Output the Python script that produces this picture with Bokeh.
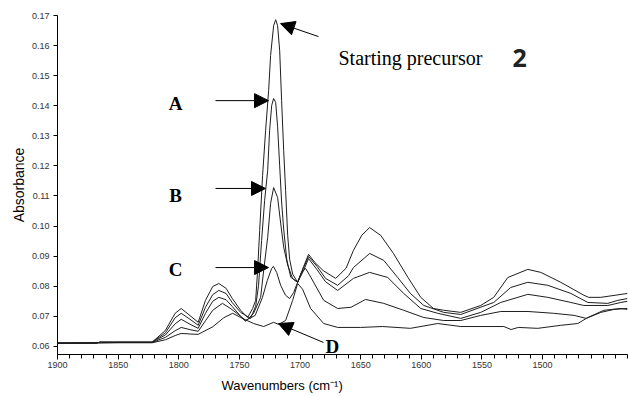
from bokeh.plotting import figure
from bokeh.models import Arrow, NormalHead, Label, FixedTicker, Range1d, NumeralTickFormatter, Title
from bokeh.embed import file_html
from bokeh.resources import INLINE

# ---- data (wavenumber cm-1, absorbance) ----
s_wn = [1900, 1868, 1865, 1822, 1811, 1803, 1798, 1790, 1784, 1778, 1772, 1767, 1761, 1756, 1749,
        1743.2, 1739.1, 1736.6, 1735, 1733.3, 1730.9, 1728.4, 1725.9, 1724.3, 1721.8, 1720.1, 1718.5,
        1716.8, 1715.2, 1713.5, 1711.9, 1710.2, 1708.6, 1706.1, 1702, 1697, 1693, 1688, 1681, 1670.6,
        1662, 1656, 1649, 1642.6, 1633.5, 1623, 1611, 1600.5, 1590, 1581.5, 1567.5, 1551, 1540.3,
        1528.7, 1512.2, 1501.5, 1485, 1466, 1462, 1452, 1430]
s_ab = [0.0611, 0.0611, 0.0614, 0.0614, 0.0653, 0.0710, 0.0726, 0.0700, 0.0680, 0.0753, 0.0799, 0.0809,
        0.0793, 0.0760, 0.0720, 0.0696, 0.0726, 0.0753, 0.0852, 0.0985, 0.1168, 0.1318, 0.1451, 0.1567,
        0.1666, 0.1686, 0.1666, 0.1583, 0.1417, 0.1251, 0.1118, 0.0969, 0.0890, 0.0840, 0.0813, 0.0866,
        0.0906, 0.0880, 0.0852, 0.0826, 0.0860, 0.0919, 0.0970, 0.0995, 0.0969, 0.0909, 0.0829, 0.0763,
        0.0726, 0.0720, 0.0713, 0.0736, 0.0763, 0.0829, 0.0856, 0.0846, 0.0813, 0.0770, 0.0763, 0.0763,
        0.0776]

a_wn = [1900, 1868, 1865, 1822, 1811, 1803, 1798, 1790, 1784, 1778, 1772, 1767, 1761, 1756, 1749,
        1740.8, 1736.6, 1734.2, 1731.7, 1729.2, 1726.7, 1725.1, 1723.4, 1721.8, 1720.1, 1718.5, 1716.8,
        1715.2, 1713.5, 1711, 1707.7, 1702, 1697, 1693, 1686, 1679, 1669, 1660, 1656, 1642.6, 1631,
        1619.5, 1609, 1598, 1581.5, 1567.5, 1540.3, 1526.2, 1512.2, 1495.7, 1476.7, 1462.7, 1446.2,
        1438, 1430]
a_ab = [0.0611, 0.0611, 0.0614, 0.0614, 0.0645, 0.0695, 0.0710, 0.0688, 0.0670, 0.0730, 0.0772, 0.0786,
        0.0776, 0.0746, 0.0713, 0.0693, 0.0733, 0.0803, 0.0952, 0.1085, 0.1185, 0.1318, 0.1401, 0.1424,
        0.1411, 0.1330, 0.1200, 0.1080, 0.0990, 0.0890, 0.0830, 0.0813, 0.0862, 0.0899, 0.0866, 0.0826,
        0.0803, 0.0835, 0.0862, 0.0909, 0.0886, 0.0829, 0.0776, 0.0736, 0.0713, 0.0706, 0.0746, 0.0796,
        0.0813, 0.0803, 0.0776, 0.0746, 0.0743, 0.0753, 0.0759]

b_wn = [1900, 1868, 1865, 1822, 1811, 1803, 1798, 1790, 1784, 1778, 1772, 1767, 1761, 1756, 1749,
        1744.9, 1738.3, 1732.5, 1730, 1726.7, 1724.3, 1721.8, 1718.5, 1716, 1713.5, 1710.2, 1706.1,
        1702, 1697, 1693, 1686, 1679, 1669, 1656, 1642.6, 1627.7, 1614.5, 1600.5, 1586.5, 1567.5,
        1551, 1534.5, 1512.2, 1495.7, 1476.7, 1466, 1446.2, 1435.5, 1430]
b_ab = [0.0611, 0.0611, 0.0614, 0.0614, 0.0638, 0.0675, 0.0690, 0.0672, 0.0660, 0.0710, 0.0750, 0.0763,
        0.0755, 0.0733, 0.0700, 0.0683, 0.0710, 0.0763, 0.0852, 0.0962, 0.1075, 0.1128, 0.1095, 0.1010,
        0.0930, 0.0870, 0.0825, 0.0813, 0.0853, 0.0892, 0.0855, 0.0815, 0.0786, 0.0826, 0.0846, 0.0829,
        0.0776, 0.0726, 0.0710, 0.0693, 0.0713, 0.0746, 0.0773, 0.0763, 0.0746, 0.0736, 0.0736, 0.0746,
        0.0750]

c_wn = [1900, 1848, 1822, 1811, 1803, 1798, 1790, 1784, 1778, 1772, 1764, 1757, 1749, 1745, 1737,
        1731, 1727, 1723.4, 1722, 1719.3, 1716, 1712, 1708.6, 1705.3, 1702, 1698.7, 1695.4, 1691,
        1680.5, 1669, 1658, 1646, 1631, 1614.5, 1598, 1581.5, 1567.5, 1551, 1534.5, 1512, 1491, 1474,
        1464, 1452, 1441, 1430]
c_ab = [0.0611, 0.0613, 0.0613, 0.0630, 0.0652, 0.0663, 0.0655, 0.0650, 0.0685, 0.0720, 0.0743, 0.0725,
        0.0700, 0.0686, 0.0703, 0.0763, 0.0819, 0.0859, 0.0866, 0.0846, 0.0803, 0.0770, 0.0759, 0.0779,
        0.0813, 0.0846, 0.0859, 0.0829, 0.0753, 0.0726, 0.0730, 0.0756, 0.0743, 0.0720, 0.0696, 0.0686,
        0.0686, 0.0703, 0.0716, 0.0716, 0.0710, 0.0703, 0.0693, 0.0713, 0.0723, 0.0726]

d_wn = [1900, 1848, 1822, 1811, 1803, 1798, 1790, 1784, 1772, 1763, 1755.6, 1749, 1738.3, 1730,
        1721.8, 1717.7, 1711.9, 1706.1, 1702, 1697.9, 1691.3, 1680.5, 1669, 1650, 1632, 1609, 1586.5,
        1567.5, 1532, 1526, 1520, 1504, 1485, 1471, 1462.7, 1449.5, 1435.5, 1430]
d_ab = [0.0610, 0.0612, 0.0612, 0.0622, 0.0636, 0.0643, 0.0641, 0.0640, 0.0665, 0.0695, 0.0710, 0.0696,
        0.0676, 0.0666, 0.0680, 0.0673, 0.0686, 0.0753, 0.0809, 0.0790, 0.0726, 0.0676, 0.0663, 0.0663,
        0.0666, 0.0660, 0.0676, 0.0666, 0.0666, 0.0656, 0.0663, 0.0660, 0.0670, 0.0676, 0.0696, 0.0720,
        0.0726, 0.0723]

x_ticks = [1900, 1850, 1800, 1750, 1700, 1650, 1600, 1550, 1500]
x_minor = list(range(1900, 1429, -10))
y_ticks = [0.06, 0.07, 0.08, 0.09, 0.10, 0.11, 0.12, 0.13, 0.14, 0.15, 0.16, 0.17]

p = figure(width=628, height=397, output_backend="svg", toolbar_location=None,
           x_range=Range1d(1900, 1430), y_range=Range1d(0.0573, 0.17),
           min_border_left=57, min_border_right=1, min_border_top=15, min_border_bottom=43)
p.outline_line_color = None
p.grid.visible = False
p.background_fill_color = "white"

p.xaxis.ticker = FixedTicker(ticks=x_ticks, minor_ticks=x_minor)
p.yaxis.ticker = FixedTicker(ticks=y_ticks)
p.yaxis.formatter = NumeralTickFormatter(format="0.00")
for ax in (p.xaxis, p.yaxis):
    ax.axis_line_color = "black"
    ax.axis_line_width = 1
    ax.major_tick_line_color = "black"
    ax.minor_tick_line_color = "black"
    ax.major_tick_in = 0
    ax.minor_tick_in = 0
    ax.major_label_text_font = "Liberation Sans"
    ax.major_label_text_font_size = "9px"
    ax.major_label_text_color = "#333333"
p.xaxis.major_tick_out = 5
p.xaxis.minor_tick_out = 4
p.xaxis.major_label_standoff = 2
p.yaxis.major_tick_out = 4
p.yaxis.minor_tick_out = 0
p.yaxis.major_label_standoff = 4

for wn, ab in ((s_wn, s_ab), (a_wn, a_ab), (b_wn, b_ab), (c_wn, c_ab), (d_wn, d_ab)):
    p.line(wn, ab, line_color="#1e1e1e", line_width=1)

def arrow(x0, y0, x1, y1, size):
    p.add_layout(Arrow(end=NormalHead(size=size, fill_color="black", line_color="black"),
                       x_start=x0, y_start=y0, x_end=x1, y_end=y1,
                       line_color="black", line_width=1))

arrow(1684.8, 0.1630, 1716.1, 0.1673, 14)
arrow(1769.7, 0.1417, 1726.0, 0.1417, 14)
arrow(1769.7, 0.1125, 1728.5, 0.1125, 14)
arrow(1769.7, 0.0862, 1726.0, 0.0862, 14)
arrow(1680.7, 0.0613, 1717.8, 0.0676, 14)

def letter(x, y, t):
    p.add_layout(Label(x=x, y=y, text=t, text_font="Liberation Serif", text_font_style="bold",
                       text_font_size="19px", text_align="center", text_baseline="middle",
                       text_color="black"))

letter(1802.7, 0.1406, "A")
letter(1802.7, 0.1102, "B")
letter(1802.7, 0.0856, "C")
letter(1673.3, 0.0600, "D")

p.add_layout(Label(x=1668.3, y=0.1560, text="Starting precursor", text_font="Liberation Serif",
                   text_font_size="20px", text_baseline="alphabetic", text_color="black"))
p.add_layout(Label(x=1524.8, y=0.1560, text="2", text_font="Open Sans", text_font_style="bold",
                   text_font_size="25px", text_baseline="alphabetic", text_color="#222222"))

# axis titles placed as side titles (not clipped to the frame)
p.add_layout(Title(text="Wavenumbers (cm⁻¹)", align="left", offset=164, standoff=10,
                   text_font="Liberation Sans", text_font_style="normal",
                   text_font_size="13px", text_color="black"), "below")
p.add_layout(Title(text="Absorbance", align="center", standoff=4,
                   text_font="Liberation Sans", text_font_style="normal",
                   text_font_size="14px", text_color="black"), "left")

open("out.html", "w").write(file_html(p, INLINE))
